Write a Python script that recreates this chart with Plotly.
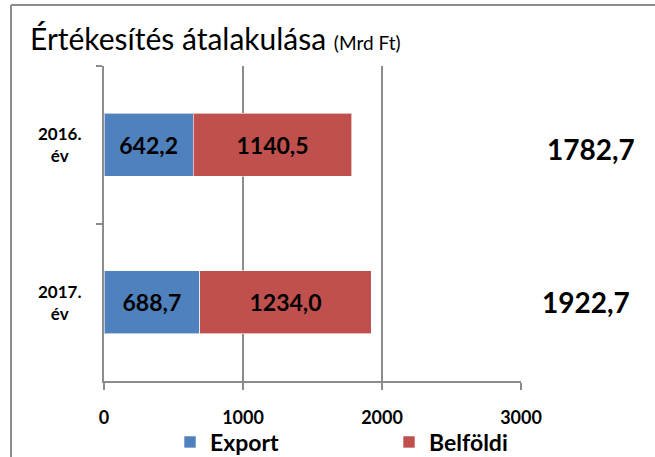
import plotly.graph_objects as go

# Sales breakdown by year (billion HUF)
years = ["2016. év", "2017. év"]
year_labels = ["2016.<br>év", "2017.<br>év"]
export_vals = [642.2, 688.7]
domestic_vals = [1140.5, 1234.0]
series_names = ["Export", "Belföldi"]
x_ticks = [0, 1000, 2000, 3000]

BLUE = "#4F81BD"
RED = "#C0504D"
GRID = "#8C8C8C"
FONT = "Lato"

W, H = 655, 457
L, R, T, B = 104, 134, 66, 76
pw, ph = W - L - R, H - T - B


def hu(v):
    return f"{v:.1f}".replace(".", ",")


def px(x):
    return (x - L) / pw


def py(y):
    return (H - B - y) / ph


fig = go.Figure()
for name, vals, col, lg in [(series_names[0], export_vals, BLUE, "legend"),
                            (series_names[1], domestic_vals, RED, "legend2")]:
    fig.add_trace(go.Bar(
        y=years, x=vals, name=name, orientation="h", legend=lg,
        marker=dict(color=col, line=dict(color="rgba(255,255,255,0.6)", width=1)),
        text=[hu(v) for v in vals], textposition="inside",
        insidetextanchor="middle",
        textfont=dict(family=FONT, size=23, color="black", weight="bold"),
        hoverinfo="skip",
    ))

annotations = []
# category labels, centred in two lines
for y, lab in zip(years, year_labels):
    annotations.append(dict(
        x=px(59), xref="paper", xanchor="center", y=y, yref="y", text=lab,
        showarrow=False, align="center",
        font=dict(family=FONT, size=17, color="black", weight="bold"),
    ))
# totals on the right
for y, e, d, cx, dy in zip(years, export_vals, domestic_vals, [591, 586], [-4, 0]):
    annotations.append(dict(
        x=px(cx), xref="paper", xanchor="center", y=y, yref="y", yshift=dy,
        text=hu(e + d), showarrow=False,
        font=dict(family=FONT, size=28, color="black", weight="bold"),
    ))
# title
annotations.append(dict(
    x=px(28), xref="paper", xanchor="left",
    y=py(38), yref="paper", yanchor="middle",
    text="Értékesítés átalakulása <span style='font-size:19px'>(Mrd Ft)</span>",
    showarrow=False, font=dict(family=FONT, size=30, color="black"),
))

shapes = [
    # frame: top and left edges
    dict(type="line", xref="paper", yref="paper",
         x0=px(11), x1=px(W), y0=py(5), y1=py(5),
         line=dict(color=GRID, width=2)),
    dict(type="line", xref="paper", yref="paper",
         x0=px(11), x1=px(11), y0=py(5), y1=py(H),
         line=dict(color=GRID, width=2)),
]

legend_style = dict(orientation="h", yanchor="middle", xanchor="left",
                    y=py(442), bgcolor="rgba(0,0,0,0)",
                    font=dict(family=FONT, size=23, color="black", weight="bold"))

fig.update_layout(
    width=W, height=H,
    margin=dict(l=L, r=R, t=T, b=B, pad=0, autoexpand=False),
    paper_bgcolor="white", plot_bgcolor="white",
    barmode="stack", bargap=0.6,
    showlegend=True,
    legend=dict(x=px(170), **legend_style),
    legend2=dict(x=px(389), **legend_style),
    xaxis=dict(range=[0, 3000], tickvals=x_ticks, showgrid=True,
               gridcolor=GRID, gridwidth=1.5, zeroline=False,
               showline=True, linecolor=GRID, linewidth=2,
               ticks="outside", ticklen=7, tickcolor=GRID, tickwidth=2,
               ticklabelstandoff=12,
               tickfont=dict(family=FONT, size=18, color="black", weight="bold")),
    yaxis=dict(type="category", categoryorder="array", categoryarray=years,
               range=[1.5, -0.5], showticklabels=False,
               showline=True, linecolor=GRID, linewidth=2,
               ticks="outside", ticklen=6, tickcolor=GRID, tickwidth=2,
               tickson="boundaries", showgrid=False, zeroline=False),
    annotations=annotations, shapes=shapes,
)

fig.write_html("out.html")
